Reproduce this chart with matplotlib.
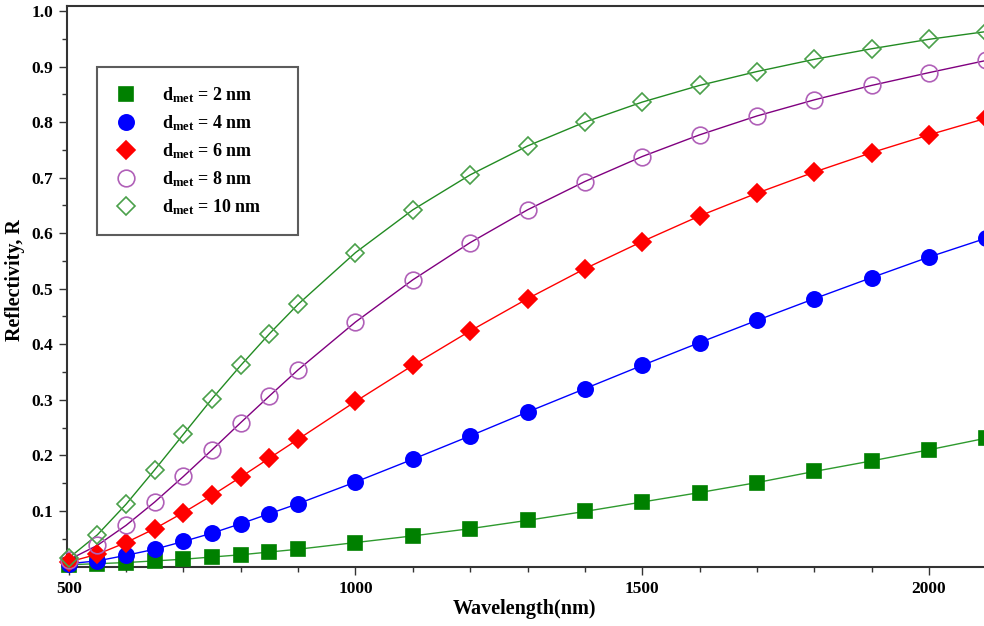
import matplotlib
matplotlib.use("Agg")
import matplotlib.pyplot as plt

plt.rcParams['font.family'] = ['Liberation Serif', 'DejaVu Serif']
plt.rcParams['mathtext.fontset'] = 'custom'
plt.rcParams['mathtext.rm'] = 'Liberation Serif'
plt.rcParams['mathtext.bf'] = 'Liberation Serif:bold'
plt.rcParams['mathtext.it'] = 'Liberation Serif:italic'

wavelength = [500, 550, 600, 650, 700, 750, 800, 850, 900,
              1000, 1100, 1200, 1300, 1400, 1500, 1600, 1700, 1800, 1900, 2000, 2100]

r_2nm = [0.003, 0.005, 0.007, 0.010, 0.013, 0.017, 0.021, 0.026, 0.031,
         0.043, 0.055, 0.068, 0.083, 0.099, 0.116, 0.133, 0.151, 0.171, 0.190, 0.210, 0.231]
r_4nm = [0.005, 0.010, 0.020, 0.031, 0.045, 0.060, 0.077, 0.095, 0.113,
         0.152, 0.193, 0.235, 0.278, 0.320, 0.362, 0.403, 0.443, 0.482, 0.520, 0.557, 0.591]
r_6nm = [0.008, 0.022, 0.043, 0.068, 0.097, 0.128, 0.161, 0.195, 0.229,
         0.297, 0.362, 0.424, 0.482, 0.536, 0.585, 0.631, 0.672, 0.710, 0.745, 0.777, 0.807]
r_8nm = [0.012, 0.038, 0.074, 0.116, 0.162, 0.210, 0.259, 0.307, 0.354,
         0.440, 0.516, 0.583, 0.642, 0.693, 0.738, 0.777, 0.811, 0.840, 0.866, 0.889, 0.911]
r_10nm = [0.015, 0.057, 0.112, 0.174, 0.238, 0.302, 0.362, 0.419, 0.472,
          0.565, 0.642, 0.705, 0.757, 0.800, 0.836, 0.866, 0.891, 0.913, 0.932, 0.949, 0.963]

labels = [r'$\mathbf{d_{met}}$ = 2 nm', r'$\mathbf{d_{met}}$ = 4 nm',
          r'$\mathbf{d_{met}}$ = 6 nm', r'$\mathbf{d_{met}}$ = 8 nm',
          r'$\mathbf{d_{met}}$ = 10 nm']

xticks = [500, 1000, 1500, 2000]
yticks = [0.1, 0.2, 0.3, 0.4, 0.5, 0.6, 0.7, 0.8, 0.9, 1.0]
ytick_labels = ['0.1', '0.2', '0.3', '0.4', '0.5', '0.6', '0.7', '0.8', '0.9', '1.0']

fig = plt.figure(figsize=(9.84, 6.26), dpi=100)
ax = fig.add_axes([67/984, 1-567/626, 1-67/984, (567-6)/626])

styles = [
    dict(series=r_2nm, marker='s', mfc='#008000', mec='#008000', line='#2e9a2e', ms=10),
    dict(series=r_4nm, marker='o', mfc='#0000ff', mec='#0000ff', line='#0000ff', ms=11),
    dict(series=r_6nm, marker='D', mfc='#ff0000', mec='#ff0000', line='#ff0000', ms=9),
    dict(series=r_8nm, marker='o', mfc='none', mec='#b060b8', line='#800080', ms=12),
    dict(series=r_10nm, marker='D', mfc='none', mec='#4aa04a', line='#228b22', ms=9.5),
]

handles = []
for st, lab in zip(styles, labels):
    ax.plot(wavelength, st['series'], color=st['line'], lw=1.0, zorder=2)
    ax.plot(wavelength, st['series'], ls='none', marker=st['marker'], ms=st['ms'],
            mfc=st['mfc'], mec=st['mec'], mew=1.2, zorder=3, clip_on=False)
    h, = ax.plot([], [], ls='none', marker=st['marker'], ms=st['ms'],
                 mfc=st['mfc'], mec=st['mec'], mew=1.2, label=lab)
    handles.append(h)

ax.set_xlim(497, 2096)
ax.set_ylim(-0.001, 1.009)
ax.set_xticks(xticks)
ax.set_xticklabels([str(v) for v in xticks], fontweight='bold', fontsize=12.5)
ax.set_xticks(list(range(600, 2100, 100)), minor=True)
ax.set_yticks(yticks)
ax.set_yticklabels(ytick_labels, fontweight='bold', fontsize=12.5)
ax.set_yticks([0.05 + 0.1 * i for i in range(10)], minor=True)

ax.tick_params(which='major', direction='out', length=6, width=1, color='#333333', pad=4)
ax.tick_params(which='minor', direction='out', length=3.6, width=1, color='#333333')
for s in ['left', 'bottom', 'top']:
    ax.spines[s].set_color('#333333')
    ax.spines[s].set_linewidth(1.5)
ax.spines['right'].set_visible(False)

ax.set_xlabel('Wavelength(nm)', fontsize=14.5, fontweight='bold')
ax.xaxis.set_label_coords(457/917, -32/561)
ax.set_ylabel('Reflectivity, R', fontsize=14.5, fontweight='bold')
ax.yaxis.set_label_coords(-42/917, 287/561)

leg = ax.legend(handles=handles, loc='upper left', mode='expand',
                bbox_to_anchor=(30/917, (567-233)/561, 201/917, 166/561),
                borderaxespad=0, fancybox=False, frameon=True, edgecolor='#333333',
                prop={'weight': 'bold', 'size': 13}, labelspacing=0.46,
                handletextpad=1.4, borderpad=1.0, handlelength=1.2)
leg.get_frame().set_linewidth(1.5)

fig.savefig('out.png', dpi=100)
